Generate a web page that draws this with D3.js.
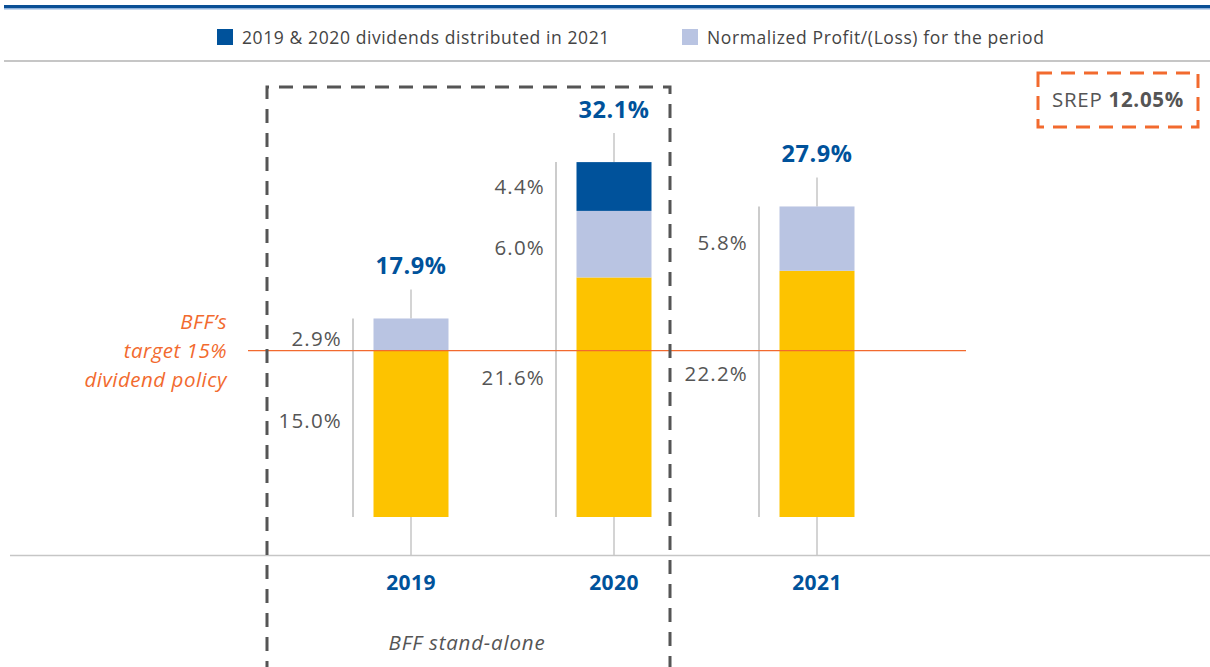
<!DOCTYPE html>
<html><head><meta charset="utf-8">
<script src="https://cdn.jsdelivr.net/npm/d3@7"></script>
<style>body{margin:0;background:#fff}svg{display:block;font-family:"Open Sans",sans-serif}</style>
</head><body><svg id="c" width="1210" height="667"></svg>
<script>
const years = ["2019","2020","2021"];
const baseValues = [15.0, 21.6, 22.2];        // yellow (CET1 base)
const normalizedValues = [2.9, 6.0, 5.8];     // Normalized Profit/(Loss)
const dividendValues = [0, 4.4, 0];           // 2019 & 2020 dividends distributed in 2021
const totalLabels = ["17.9%", "32.1%", "27.9%"];
const targetValue = 15;
const legendLabels = ["2019 & 2020 dividends distributed in 2021", "Normalized Profit/(Loss) for the period"];
const srepLabel = ["SREP ", "12.05%"];

const C = {dark:"#00529b", light:"#b9c4e2", yellow:"#fdc300", orange:"#f26a2e", text:"#555", grid:"#c6c6c6"};
const svg = d3.select("#c");

const x = d3.scalePoint().domain(years).range([411, 817]);
const y = d3.scaleLinear().domain([0, 32.1]).range([517, 161]);
const bw = 75;

// top rule
svg.append("rect").attr("x",4).attr("y",5).attr("width",1206).attr("height",3).attr("fill","#0a4f95");
svg.append("rect").attr("x",4).attr("y",8).attr("width",1206).attr("height",1.5).attr("fill","#8fb2db");
svg.append("rect").attr("x",4).attr("y",60).attr("width",1206).attr("height",2).attr("fill",C.grid);

// legend
const lg = [{c:C.dark,x:217},{c:C.light,x:682}];
lg.forEach((d,i)=>{
  svg.append("rect").attr("x",d.x).attr("y",29).attr("width",16).attr("height",16).attr("fill",d.c);
  svg.append("text").attr("x",d.x+25).attr("y",44).attr("font-size",17.5).attr("letter-spacing",0.6).attr("fill","#444").text(legendLabels[i]);
});

// stacked data
const rows = years.map((yr,i)=>({year:yr, segs:[
  {k:"base", v:baseValues[i], c:C.yellow},
  {k:"norm", v:normalizedValues[i], c:C.light},
  {k:"div", v:dividendValues[i], c:C.dark}
]}));
rows.forEach(r=>{let acc=0; r.segs.forEach(s=>{s.y0=acc; acc+=s.v; s.y1=acc;}); r.total=acc;});

// axis line
svg.append("line").attr("x1",10).attr("x2",1210).attr("y1",555.5).attr("y2",555.5).attr("stroke",C.grid).attr("stroke-width",1.5);

const g = svg.append("g");
rows.forEach((r,i)=>{
  const cx = x(r.year);
  g.append("line").attr("x1",cx).attr("x2",cx).attr("y1",y(0)).attr("y2",555).attr("stroke",C.grid).attr("stroke-width",1.5);
  g.append("line").attr("x1",cx).attr("x2",cx).attr("y1",y(r.total)-29).attr("y2",y(r.total)).attr("stroke",C.grid).attr("stroke-width",1.5);
  g.append("line").attr("x1",cx-58).attr("x2",cx-58).attr("y1",y(r.total)).attr("y2",y(0)).attr("stroke","#aaa").attr("stroke-width",1.2);
  r.segs.filter(s=>s.v>0).forEach((s,j)=>{
    g.append("rect").attr("x",cx-bw/2).attr("width",bw).attr("y",y(s.y1)).attr("height",y(s.y0)-y(s.y1)).attr("fill",s.c);
    const ly = j===0 ? y(s.v*0.58) : (y(s.y0)+y(s.y1))/2 + (j===1 ? 4 : 0);
    g.append("text").attr("x",cx-69).attr("y",ly).attr("dy","0.35em").attr("text-anchor","end")
      .attr("font-size",20.5).attr("letter-spacing",1.2).attr("fill",C.text).text(s.v.toFixed(1)+"%");
  });
  g.append("text").attr("x",cx).attr("y",y(r.total)-44).attr("text-anchor","middle")
    .attr("font-size",23.5).attr("letter-spacing",0.6).attr("font-weight","bold").attr("fill",C.dark).text(totalLabels[i]);
  g.append("text").attr("x",cx).attr("y",590).attr("text-anchor","middle")
    .attr("font-size",21).attr("letter-spacing",0.4).attr("font-weight","bold").attr("fill",C.dark).text(r.year);
});

// target line
svg.append("line").attr("x1",248).attr("x2",966).attr("y1",y(targetValue)).attr("y2",y(targetValue)).attr("stroke",C.orange).attr("stroke-width",1.3);
const tl = svg.append("text").attr("text-anchor","end").attr("font-size",20.5).attr("letter-spacing",0.5).attr("font-style","italic").attr("fill",C.orange);
["BFF\u2019s","target 15%","dividend policy"].forEach((t,i)=>tl.append("tspan").attr("x",227).attr("y",y(targetValue)-22+i*29).text(t));

// dashed stand-alone box
svg.append("path").attr("d","M267,675 V87 H670 V675").attr("fill","none").attr("stroke","#555").attr("stroke-width",3).attr("stroke-dasharray","14,10");
svg.append("text").attr("x",467).attr("y",650).attr("text-anchor","middle").attr("font-size",20.5).attr("letter-spacing",0.8).attr("font-style","italic").attr("fill",C.text).text("BFF stand-alone");

// SREP box
svg.append("rect").attr("x",1038).attr("y",73).attr("width",160).attr("height",54).attr("fill","none").attr("stroke",C.orange).attr("stroke-width",3).attr("stroke-dasharray","14,9");
const st = svg.append("text").attr("x",1118).attr("y",107).attr("text-anchor","middle").attr("font-size",20.5).attr("letter-spacing",0.7).attr("fill",C.text);
st.append("tspan").text(srepLabel[0]);
st.append("tspan").attr("font-weight","bold").text(srepLabel[1]);
</script></body></html>
